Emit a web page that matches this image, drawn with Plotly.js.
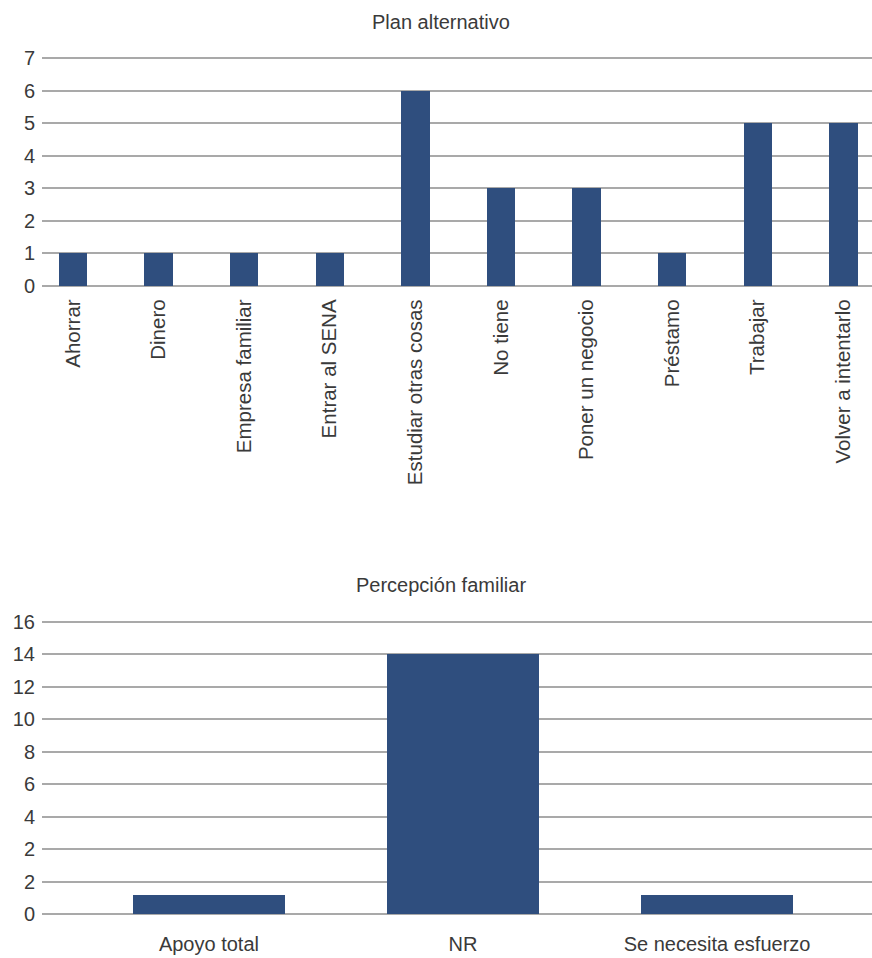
<!DOCTYPE html>
<html>
<head>
<meta charset="utf-8">
<script src="https://cdn.plot.ly/plotly-3.0.1.min.js"></script>
<style>html,body{margin:0;padding:0;background:#fff;}#chart{width:872px;height:958px;}</style>
</head>
<body>
<div id="chart"></div>
<script>
// Chart 1: Plan alternativo
const planCategories = ["Ahorrar", "Dinero", "Empresa familiar", "Entrar al SENA", "Estudiar otras cosas", "No tiene", "Poner un negocio", "Préstamo", "Trabajar", "Volver a intentarlo"];
const planValues = [1, 1, 1, 1, 6, 3, 3, 1, 5, 5];
const planTicks = [0, 1, 2, 3, 4, 5, 6, 7];

// Chart 2: Percepción familiar
const famCategories = ["Apoyo total", "NR", "Se necesita esfuerzo"];
const famValues = [1, 14, 1];
const famTickLabels = ["0", "2", "2", "4", "6", "8", "10", "12", "14", "16"];
const famTickStep = 1.75;

const barColor = "#2F4E7E";
const gridColor = "#a9a9a9";
const textColor = "#3a3a3a";
const fontFamily = "Liberation Sans, Arial, sans-serif";

const H = 958, W = 872;
const py = p => 1 - p / H;

// y-axis layout: value range [lo, hi] occupies pixel rows [p0, p1]; pad a bit so edge gridlines draw
function yAxisSetup(lo, hi, p0, p1, pad) {
  const perUnit = (p0 - p1) / (hi - lo);
  return {
    range: [lo - pad, hi + pad],
    domain: [py(p0 + pad * perUnit), py(p1 - pad * perUnit)]
  };
}
const planAxis = yAxisSetup(0, 7, 286, 58, 0.04);
const famAxis = yAxisSetup(0, famTickStep * (famTickLabels.length - 1), 914, 622, 0.08);

const traces = [
  {type: "bar", x: planCategories.map((c, i) => i), y: planValues, xaxis: "x", yaxis: "y",
   marker: {color: barColor}, width: 0.33, hoverinfo: "skip"},
  {type: "bar", x: famCategories.map((c, i) => i), y: famValues, xaxis: "x2", yaxis: "y2",
   marker: {color: barColor}, width: 0.6, hoverinfo: "skip"}
];

const axisCommon = {showline: false, zeroline: false, ticks: "", fixedrange: true};
const yCommon = Object.assign({}, axisCommon, {
  showgrid: true, gridcolor: gridColor, gridwidth: 2,
  tickfont: {size: 20, color: textColor}, ticklabelstandoff: 6
});

const layout = {
  width: W, height: H,
  margin: {l: 0, r: 0, t: 0, b: 0},
  paper_bgcolor: "#fff", plot_bgcolor: "#fff",
  showlegend: false,
  font: {family: fontFamily, size: 20, color: textColor},
  bargap: 0,
  xaxis: Object.assign({}, axisCommon, {
    domain: [42 / W, 1], anchor: "y",
    range: [-0.362, 9.334],
    tickvals: planCategories.map((c, i) => i), ticktext: planCategories,
    tickangle: -90, showgrid: false, tickfont: {size: 20.5, color: textColor},
    ticklabelstandoff: 7
  }),
  yaxis: Object.assign({}, yCommon, {
    domain: planAxis.domain, anchor: "x", range: planAxis.range,
    tickvals: planTicks, ticktext: planTicks.map(String)
  }),
  xaxis2: Object.assign({}, axisCommon, {
    domain: [42 / W, 1], anchor: "y2",
    range: [-0.657, 2.61],
    tickvals: famCategories.map((c, i) => i), ticktext: famCategories,
    showgrid: false, tickfont: {size: 20, color: textColor}, ticklabelstandoff: 15
  }),
  yaxis2: Object.assign({}, yCommon, {
    domain: famAxis.domain, anchor: "x2", range: famAxis.range,
    tickvals: famTickLabels.map((t, i) => i * famTickStep), ticktext: famTickLabels
  }),
  annotations: [
    {text: "Plan alternativo", xref: "paper", yref: "paper", x: 441 / W, y: py(22),
     showarrow: false, font: {size: 20, color: textColor}, xanchor: "center", yanchor: "middle"},
    {text: "Percepción familiar", xref: "paper", yref: "paper", x: 441 / W, y: py(585),
     showarrow: false, font: {size: 20, color: textColor}, xanchor: "center", yanchor: "middle"}
  ]
};

Plotly.newPlot("chart", traces, layout, {displayModeBar: false, staticPlot: true});
</script>
</body>
</html>
